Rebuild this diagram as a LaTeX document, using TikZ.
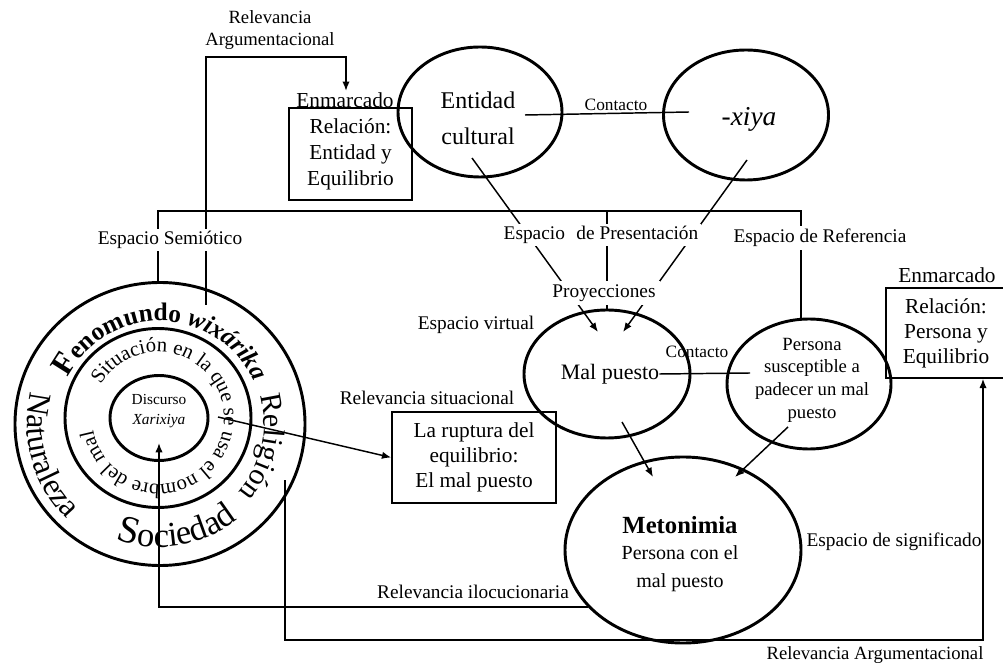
\documentclass[tikz,border=0pt]{standalone}
\usepackage{fontspec}
\setmainfont{Liberation Serif}
\usetikzlibrary{shapes.geometric,arrows.meta,decorations.text,calc}

\begin{document}
\begin{tikzpicture}[x=0.75pt,y=0.75pt,
  conn/.style={line width=1.1pt},
  arr/.style={conn,-{Latex[length=7pt,width=5.5pt]}},
  ring/.style={ellipse,draw,line width=2.2pt,inner sep=0pt},
  boxn/.style={draw,line width=1.1pt,align=center,inner sep=0pt},
  lbl/.style={font=\fontsize{14.5}{17}\selectfont,inner sep=1pt,align=center},
  gap/.style={lbl,fill=white,inner sep=2pt},
  small/.style={font=\fontsize{13}{15}\selectfont,inner sep=1pt},
  boxtext/.style={font=\fontsize{16}{19.5}\selectfont},
  arctext/.style={decorate,decoration={text along path,text align=left,text={#1}}},
]
\clip (0,0) rectangle (1003,-666);
\fill[white] (0,0) rectangle (1003,-666);

% ---- concentric rings of the phenomenal world ----
\node[ring,minimum width=217.5pt,minimum height=212.25pt] (outer) at (160,-424) {};
\node[ring,minimum width=139.5pt,minimum height=134.25pt] (mid) at (158,-418) {};
\node[ring,minimum width=73.5pt,minimum height=63.75pt] (inner) at (159,-418) {};
\node[font=\fontsize{11.5}{15}\selectfont,align=center] (disc) at (159,-411) {Discurso\\\textit{Xarixiya}};

% texts that follow the rings (each starts at the arc's first point)
{\fontsize{19}{19}\selectfont\bfseries
\path[arctext={|\fontsize{24}{24}\selectfont\bfseries|F|\fontsize{19}{19}\selectfont\bfseries|enomundo |\fontsize{19}{19}\selectfont\bfseries\itshape|wixárika}]
  ($(outer.center)+(153:103)$) arc[start angle=153,end angle=-5,radius=103];}
{\fontsize{22.5}{22.5}\selectfont
\path[arctext={Religión}]
  ($(outer.center)+(16:104)$) arc[start angle=16,end angle=-70,radius=104];}
{\fontsize{26}{26}\selectfont
\path[arctext={|\fontsize{29}{29}\selectfont|S|\fontsize{26}{26}\selectfont|ociedad}]
  ($(outer.center)+(-111:123)$) arc[start angle=-111,end angle=-20,radius=123];}
{\fontsize{24}{24}\selectfont
\path[arctext={Naturaleza}]
  ($(outer.center)+(166:133)$) arc[start angle=166,end angle=250,radius=133];}
{\fontsize{15.5}{15.5}\selectfont
\path[arctext={Situación en la que se usa el nombre del mal}]
  ($(mid.center)+(150:66)$) arc[start angle=150,end angle=-205,radius=66];}

% ---- ellipses ----
\node[ring,minimum width=123pt,minimum height=97.5pt] (ent) at (480,-112) {};
\node[font=\fontsize{18}{27}\selectfont,align=center] (ent-t) at (478,-118) {Entidad\\cultural};
\node[ring,minimum width=123.75pt,minimum height=97.5pt] (xiya) at (746,-115) {};
\node[font=\fontsize{20.5}{24}\selectfont\itshape] (xiya-t) at (749,-119) {-xiya};
\node[ring,minimum width=124.5pt,minimum height=96pt] (malp) at (607,-374) {};
\node[font=\fontsize{16.5}{20}\selectfont,inner sep=0pt] (malp-t) at (610,-374) {Mal puesto};
\node[ring,minimum width=123pt,minimum height=97.5pt] (pers) at (809,-384) {};
\node[font=\fontsize{14}{17}\selectfont,align=center] (pers-t) at (812,-380) {Persona\\susceptible a\\padecer un mal\\puesto};
\node[ring,minimum width=177pt,minimum height=139.5pt] (met) at (683,-550) {};
\node[font=\fontsize{18.5}{22}\selectfont\bfseries] (met-h) at (680,-525) {Metonimia};
\node[font=\fontsize{15}{21}\selectfont,align=center] (met-b) at (680,-569) {Persona con el\\mal puesto};

% ---- framed boxes ----
\node[boxn,boxtext,minimum width=92.25pt,minimum height=69pt] (ebox) at (350.5,-154) {Relación:\\Entidad y\\Equilibrio};
\node[boxtext,inner sep=1pt] (enm1) at (345,-100) {Enmarcado};
\node[boxn,font=\fontsize{16}{18.75}\selectfont,minimum width=90pt,minimum height=67.5pt] (pbox) at (946,-333) {Relación:\\Persona y\\Equilibrio};
\node[boxtext,inner sep=1pt] (enm2) at (947,-275) {Enmarcado};
\node[boxn,font=\fontsize{16}{19}\selectfont,minimum width=123pt,minimum height=68.25pt] (rupt) at (474,-457.5) {La ruptura del\\equilibrio:\\El mal puesto};

% ---- free ends of connectors ----
\coordinate (wxp) at (206,-305);
\coordinate (rtop) at (346,-57);
\coordinate (brl) at (158,-211);
\coordinate (brm) at (607,-211);
\coordinate (brr) at (801,-211);
\coordinate (prj) at (607,-310);
\coordinate (d1s) at (472,-158);
\coordinate (d1e) at (598,-332);
\coordinate (d2s) at (747,-160);
\coordinate (d2e) at (623,-332);
\coordinate (c1a) at (525,-115);
\coordinate (c1b) at (689,-112);
\coordinate (c2b) at (750,-373);
\coordinate (mpa) at (622,-422);
\coordinate (mpb) at (653,-477);
\coordinate (pea) at (788,-427);
\coordinate (peb) at (735,-477);
\coordinate (sitp) at (218,-417);
\coordinate (relp) at (285,-480);
\coordinate (cbot) at (983,-640);
\coordinate (dtip) at (159,-443);

% ---- connectors ----
\draw[arr] (wxp) |- (rtop) -- (rtop |- enm1.north);
\draw[conn] (brl |- outer.north) -- (brl) -- (brr) -- (brr |- pers.north);
\draw[conn] (brm) -- (prj);
\draw[arr] (d1s) -- (d1e);
\draw[arr] (d2s) -- (d2e);
\draw[conn] (c1a) -- (c1b);
\draw[conn] (malp-t.east) -- (c2b);
\draw[arr] (mpa) -- (mpb);
\draw[arr] (pea) -- (peb);
\draw[arr] (sitp) -- (rupt.west);
\draw[arr] (relp) |- (cbot) -- (cbot |- pbox.south);
\draw[arr] (met.211) -| (dtip);

% ---- labels ----
\node[lbl,font=\fontsize{14}{17}\selectfont] (relarg1) at (270,-30) {Relevancia\\Argumentacional};
\node[gap] (espsem) at (170,-240) {Espacio Semiótico};
\node[gap] (esppres) at (601,-235) {Espacio\hspace{5pt} de Presentación};
\node[gap] (espref) at (820,-238) {Espacio de Referencia};
\node[gap,inner sep=3pt] (proy) at (604,-293) {Proyecciones};
\node[lbl] (espvir) at (476,-325) {Espacio virtual};
\node[small] (cont1) at (616,-105) {Contacto};
\node[small] (cont2) at (697,-352) {Contacto};
\node[lbl] (relsit) at (427,-398) {Relevancia situacional};
\node[lbl] (espsig) at (894,-542) {Espacio de significado};
\node[lbl] (reliloc) at (473,-592) {Relevancia ilocucionaria};
\node[lbl,font=\fontsize{14}{17}\selectfont] (relarg2) at (875,-655) {Relevancia Argumentacional};
\end{tikzpicture}
\end{document}
